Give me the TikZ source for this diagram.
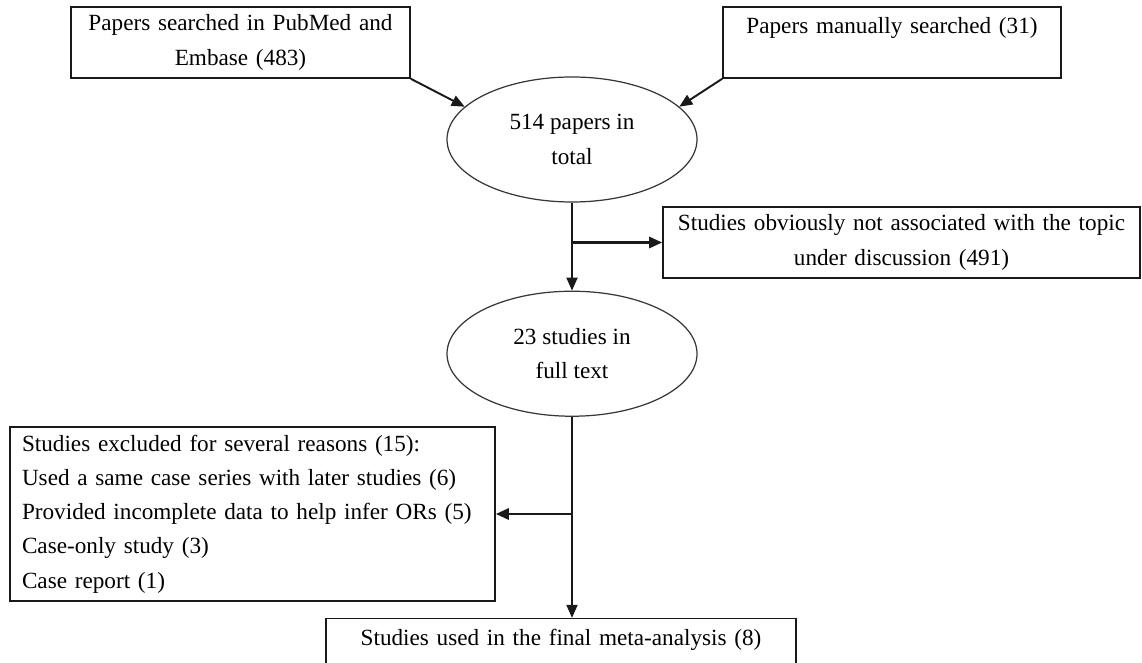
\documentclass[tikz,border=0pt]{standalone}
\usepackage{fontspec}
\setmainfont{Liberation Serif}
\usepackage{tikz}
\usetikzlibrary{shapes.geometric, arrows.meta, positioning}
\definecolor{mydark}{RGB}{25,25,25}
\definecolor{myline}{RGB}{55,55,55}
\tikzset{
  block/.style={rectangle, draw=mydark, fill=white,
    text width=#1, align=center, minimum height=1.42cm,
    inner sep=0.12cm, font=\fontsize{13.2}{19.5}\selectfont, line width=0.9pt},
  listblock/.style={rectangle, draw=mydark, fill=white,
    text width=#1, align=left, minimum height=3.48cm,
    inner xsep=0.24cm, inner ysep=0.1cm, font=\fontsize{13.2}{19.5}\selectfont, line width=0.9pt},
  stage/.style={ellipse, draw=myline, fill=white,
    minimum width=5cm, minimum height=2.5cm, inner sep=0pt,
    align=center, font=\fontsize{13.2}{19.5}\selectfont, line width=0.7pt},
  arrow/.style={-{Triangle[length=0.26cm,width=0.22cm]}, line width=1.1pt, color=mydark},
  sidearrow/.style={arrow, line width=1.6pt},
  line/.style={line width=1.1pt, color=mydark}
}

\begin{document}
\begin{tikzpicture}[node distance=1.0cm and 0.8cm]
  \useasboundingbox (0,0) rectangle (22.84,-13.26);

  % Sources
  \node[block=6.54cm] (search) at (4.81,-0.85) {Papers searched in PubMed and\\Embase (483)};
  \node[block=6.52cm] (manual) at (17.84,-0.85) {Papers manually searched (31)\\\mbox{}};

  % Screening
  \node[stage] (total) at (11.44,-2.79) {514 papers in\\total};
  \node[stage, below=1.76cm of total] (fulltext) {23 studies in\\full text};
  \node[block=9.30cm] (notrel) at (18.03,-4.85) {Studies obviously not associated with the topic\\under discussion (491)};
  \node[listblock=9.22cm] (excl) at (5.05,-10.28) {Studies excluded for several reasons (15):\\
    Used a same case series with later studies (6)\\
    Provided incomplete data to help infer ORs (5)\\
    Case-only study (3)\\
    Case report (1)};
  \node[block=9.16cm, below=4.02cm of fulltext, xshift=-0.22cm] (final) {Studies used in the final meta-analysis (8)\\\mbox{}};

  % Arrows
  \draw[arrow] (search.south east) -- (total.163);
  \draw[arrow] (manual.south west) -- (total.17);
  \draw[arrow] (total.south) -- (total.south |- fulltext.north);
  \coordinate (cut1) at (total.south |- notrel.west);
  \draw[sidearrow] (cut1) -- (notrel.west);
  \draw[arrow] (fulltext.south) -- (fulltext.south |- final.north);
  \coordinate (cut2) at (fulltext.south |- excl.east);
  \draw[sidearrow] (cut2) -- (excl.east);
\end{tikzpicture}
\end{document}
